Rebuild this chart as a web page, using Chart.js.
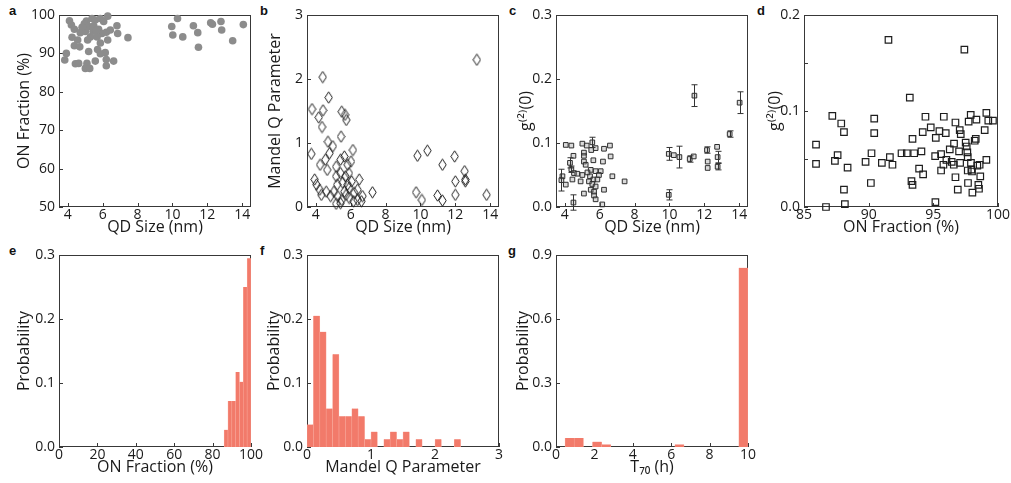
<!DOCTYPE html>
<html>
<head>
<meta charset="utf-8">
<script src="https://cdn.jsdelivr.net/npm/chart.js@4.4.1/dist/chart.umd.min.js"></script>
<style>
  body { margin: 0; background: #fff; width: 1011px; height: 483px; position: relative; overflow: hidden; }
  canvas { position: absolute; }
  .tag { position: absolute; font: bold 13px "Liberation Sans", Arial, sans-serif; color: #111; }
</style>
</head>
<body>
<div class="tag" style="left:9px;top:3px">a</div>
<div class="tag" style="left:260px;top:3px">b</div>
<div class="tag" style="left:509px;top:3px">c</div>
<div class="tag" style="left:757px;top:3px">d</div>
<div class="tag" style="left:9px;top:243px">e</div>
<div class="tag" style="left:260px;top:243px">f</div>
<div class="tag" style="left:508px;top:243px">g</div>

<canvas id="pa"></canvas><canvas id="pb"></canvas><canvas id="pc"></canvas><canvas id="pd"></canvas>
<canvas id="pe"></canvas><canvas id="pf"></canvas><canvas id="pg"></canvas>

<script>
// --- a: ON fraction vs QD size ---
const aSize = [4.1,4.21,4.38,4.72,4.25,4.57,4.38,4.69,3.92,3.83,4.44,4.63,5.01,5.2,5.07,5.39,5.58,5.87,6.06,6.29,
  5.49,5.77,5.96,6.21,6.44,6.82,6.86,5.3,5.68,5.14,5.87,6.29,5.2,5.71,6.15,5.87,5.1,5.58,6.21,6.63,
  6.21,5.01,5.26,7.45,4.95,5.45,4.82,5.64,
  9.96,10.02,10.29,10.59,11.2,11.45,11.49,12.19,12.29,12.78,12.82,13.45,14.06];
const aOn = [98.5,97.4,96.3,95.4,94.2,93.5,92,91.7,90,88.3,87.3,87.4,95.7,97,98.4,99.1,98.7,99.1,98.3,99.7,
  97.2,96.3,95.2,95.5,96.1,97.2,95.2,94.3,94.3,93.5,92.7,93.5,90.5,91,90.2,89.9,87.4,88,88.4,88,
  86.8,86.1,86.1,94.1,97.7,95.8,96.8,96.0,
  97,94.8,99.1,94.3,97.2,95.4,91.6,98,97.6,98.3,96.1,93.3,97.5];

// --- b: Mandel Q vs QD size ---
const bSize = [3.75,3.79,4.4,4.74,4.42,4.17,4.36,4.7,4.79,4.55,4.25,4.66,3.94,4.04,4.23,4.32,4.6,4.85,4.98,5.49,
  5.68,5.45,5.75,6.13,5.17,5.42,5.64,5.83,6.02,5.17,5.42,5.7,5.9,5.23,5.55,5.83,6.06,5.04,5.26,5.49,
  5.74,5.92,6.17,5.42,5.17,5.64,6.4,6.49,6.68,6.62,6.4,6.21,5.92,7.25,
  9.83,10.4,9.75,10.08,10.98,11.26,11.26,11.96,12.0,12.0,12.53,12.57,12.57,13.23,13.79];
const bQ = [0.83,1.53,2.03,1.71,1.51,1.4,1.25,1.02,0.84,0.74,0.66,0.58,0.43,0.35,0.27,0.19,0.24,0.17,0.95,1.49,
  1.44,1.1,1.36,0.89,0.63,0.74,0.79,0.66,0.71,0.48,0.53,0.48,0.53,0.35,0.38,0.35,0.4,0.24,0.17,0.11,
  0.19,0.14,0.09,0.06,0.05,0.24,0.27,0.43,0.17,0.09,0.11,0.22,0.3,0.23,
  0.8,0.88,0.23,0.11,0.18,0.66,0.1,0.79,0.4,0.19,0.56,0.43,0.4,2.3,0.19];

// --- c: g2(0) vs QD size, with error bars ---
const cSize = [4.06,4.38,5.01,5.26,5.52,5.58,5.77,6.25,6.59,6.63,4.5,5.1,5.64,6.19,5.1,5.2,4.3,4.38,4.53,4.72,
  5.01,3.87,3.81,4.06,4.5,5.49,5.77,6.06,5.96,5.45,5.64,5.39,5.87,5.58,5.77,5.49,5.68,6.25,6.73,7.43,
  4.91,4.44,5.68,5.77,6.15,5.1,5.3,5.1,
  9.96,10.25,10.57,9.96,11.16,11.39,11.43,12.15,12.19,12.19,12.73,12.76,12.76,13.45,14.02];
const cG2 = [0.097,0.096,0.099,0.096,0.089,0.101,0.092,0.091,0.096,0.079,0.08,0.08,0.073,0.071,0.071,0.066,0.069,0.059,0.053,0.052,
  0.05,0.048,0.042,0.035,0.007,0.058,0.056,0.056,0.05,0.048,0.043,0.04,0.043,0.036,0.032,0.027,0.024,0.027,0.048,0.04,
  0.04,0.043,0.018,0.012,0.004,0.021,0.054,0.085,
  0.083,0.081,0.078,0.019,0.075,0.079,0.174,0.089,0.071,0.061,0.094,0.078,0.063,0.114,0.163];
const cErr = [0.003,0.003,0.003,0.003,0.003,0.008,0.003,0.003,0.003,0.003,0.004,0.003,0.003,0.003,0.003,0.003,0.008,0.005,0.004,0.003,
  0.003,0.003,0.017,0.003,0.012,0.003,0.003,0.003,0.003,0.003,0.003,0.003,0.003,0.003,0.003,0.003,0.003,0.003,0.004,0.004,
  0.003,0.003,0.003,0.003,0.004,0.003,0.003,0.003,
  0.010,0.003,0.017,0.008,0.005,0.003,0.017,0.005,0.003,0.003,0.004,0.009,0.005,0.005,0.017];

// --- d: g2(0) vs ON fraction ---
const dOn = [85.93,85.93,86.7,87.19,87.39,87.6,87.88,88.09,88.09,88.16,88.37,89.76,90.22,90.17,90.43,90.43,91.02,91.53,91.64,91.84,
  92.54,92.95,93.18,93.39,93.52,93.31,93.39,94.08,93.9,94.18,94.21,94.39,94.8,95.19,95.14,95.16,95.47,95.6,95.6,95.81,
  95.78,95.96,96.01,96.27,96.42,96.71,96.6,96.58,96.71,96.89,97.04,97.12,96.99,97.07,97.4,97.5,97.58,97.63,97.66,97.66,
  97.73,97.89,97.91,97.94,97.99,98.02,98.28,98.33,98.4,98.48,98.53,98.58,98.63,98.97,99.1,99.1,99.25,99.61,97.68,98.2];
const dG2 = [0.065,0.045,0.0,0.095,0.048,0.054,0.087,0.078,0.018,0.003,0.041,0.047,0.056,0.025,0.092,0.077,0.046,0.174,0.052,0.044,
  0.056,0.056,0.114,0.071,0.056,0.027,0.023,0.058,0.04,0.078,0.034,0.094,0.083,0.072,0.053,0.005,0.079,0.055,0.038,0.094,
  0.044,0.077,0.049,0.06,0.047,0.088,0.066,0.044,0.031,0.018,0.08,0.076,0.058,0.046,0.164,0.067,0.063,0.057,0.052,0.038,
  0.089,0.096,0.046,0.039,0.037,0.015,0.071,0.091,0.043,0.023,0.019,0.044,0.032,0.08,0.098,0.049,0.09,0.09,0.025,0.069];

// --- histograms (bin centres / probability) ---
const eBins = [87,89,91,93,95,97,99];
const eProb = [0.027,0.072,0.072,0.117,0.102,0.25,0.295];
const fBins = [0.05,0.15,0.25,0.35,0.45,0.55,0.65,0.75,0.85,0.95,1.05,1.15,1.25,1.35,1.45,1.55,1.65,1.75,1.85,1.95,2.05,2.15,2.25,2.35];
const fProb = [0.035,0.205,0.18,0.06,0.145,0.048,0.048,0.06,0.048,0.012,0.024,0,0.012,0.024,0.012,0.024,0,0.012,0,0,0.012,0,0,0.012];
const gBins = [0.71,1.19,2.14,2.62,6.43,9.76];
const gProb = [0.042,0.042,0.025,0.012,0.012,0.84];

// --- tick values ---
const sizeTicks = [4,6,8,10,12,14];
const onTicks = [50,60,70,80,90,100];
const qTicks = [0,1,2,3];
const g2Ticks = [0,0.1,0.2,0.3];
const dxTicks = [85,90,95,100];
const dyTicks = [0,0.05,0.1,0.15,0.2];
const probTicks = [0,0.1,0.2,0.3];
const eTicks = [0,20,40,60,80,100];
const gyTicks = [0,0.3,0.6,0.9];
const gxTicks = [0,2,4,6,8,10];

Chart.defaults.font.family = '"Open Sans", "Noto Sans", sans-serif';
Chart.defaults.color = '#1a1a1a';
Chart.defaults.animation = false;

const SALMON = 'rgb(242,122,106)';
const SALMON_EDGE = 'rgb(248,165,152)';

// frame + inward tick marks
const frameTicks = {
  id: 'frameTicks',
  beforeDatasetsDraw(chart) {
    const { ctx, chartArea: a, scales } = chart;
    ctx.save();
    ctx.strokeStyle = '#383838';
    ctx.lineWidth = 1;
    ctx.strokeRect(a.left + 0.5, a.top + 0.5, a.right - a.left - 1, a.bottom - a.top - 1);
    ctx.beginPath();
    scales.x.ticks.forEach(t => {
      const p = Math.round(scales.x.getPixelForValue(t.value)) + 0.5;
      ctx.moveTo(p, a.bottom); ctx.lineTo(p, a.bottom - 4);
    });
    scales.y.ticks.forEach(t => {
      const p = Math.round(scales.y.getPixelForValue(t.value)) + 0.5;
      ctx.moveTo(a.left, p); ctx.lineTo(a.left + 4, p);
    });
    ctx.stroke();
    ctx.restore();
  }
};

const errorBars = {
  id: 'errorBars',
  afterDatasetsDraw(chart) {
    const { ctx, scales: { x, y } } = chart;
    ctx.save();
    ctx.strokeStyle = '#333';
    ctx.lineWidth = 1;
    ctx.beginPath();
    cSize.forEach((v, i) => {
      if (cErr[i] < 0.005) return;
      const px = Math.round(x.getPixelForValue(v)) + 0.5;
      const top = y.getPixelForValue(cG2[i] + cErr[i]);
      const bot = y.getPixelForValue(cG2[i] - cErr[i]);
      ctx.moveTo(px, top); ctx.lineTo(px, bot);
      ctx.moveTo(px - 3, top); ctx.lineTo(px + 3, top);
      ctx.moveTo(px - 3, bot); ctx.lineTo(px + 3, bot);
    });
    ctx.stroke();
    ctx.restore();
  }
};

// tall open diamond marker for panel b
const diamond = document.createElement('canvas');
diamond.width = 9; diamond.height = 13;
(function () {
  const c = diamond.getContext('2d');
  c.strokeStyle = '#1e1e1e'; c.lineWidth = 1;
  c.beginPath();
  c.moveTo(4.5, 0.8); c.lineTo(8.2, 6.5); c.lineTo(4.5, 12.2); c.lineTo(0.8, 6.5); c.closePath();
  c.stroke();
})();

function scale(ax, size, horiz) {
  return {
    type: 'linear', min: ax.min, max: ax.max, offset: false,
    grid: { display: false, drawTicks: false },
    border: { display: false },
    afterBuildTicks: s => { s.ticks = ax.ticks.map(v => ({ value: v })); },
    afterFit: s => { if (horiz) s.height = size; else s.width = size; },
    ticks: { autoSkip: false, maxRotation: 0, padding: horiz ? 0 : 4, font: { size: 14 }, callback: ax.fmt || (v => v) },
    title: { display: true, text: ax.title, font: { size: 16 },
      padding: horiz ? { top: 0, bottom: ax.tpad } : { top: ax.tpad, bottom: 0 } }
  };
}

function panel(id, box, plot, type, datasets, xAx, yAx, extra) {
  const cv = document.getElementById(id);
  cv.width = box[2]; cv.height = box[3];
  cv.style.left = box[0] + 'px'; cv.style.top = box[1] + 'px';
  return new Chart(cv, {
    type: type,
    data: { datasets: datasets },
    options: {
      responsive: false, devicePixelRatio: 1,
      layout: { padding: { left: 0, top: plot[1] - box[1], right: box[0] + box[2] - plot[2], bottom: 0 } },
      plugins: { legend: { display: false }, tooltip: { enabled: false } },
      scales: {
        x: scale(xAx, box[1] + box[3] - plot[3], true),
        y: scale(yAx, plot[0] - box[0], false)
      }
    },
    plugins: [frameTicks].concat(extra || [])
  });
}

const pts = (xs, ys) => xs.map((v, i) => ({ x: v, y: ys[i] }));
const fix1 = v => v.toFixed(1);

// top row
panel('pa', [0, 0, 264, 240], [59, 15, 251, 207], 'scatter',
  [{ data: pts(aSize, aOn), pointRadius: 3.8, backgroundColor: '#8c8c8c', borderWidth: 0, clip: false }],
  { min: 3.5, max: 14.5, ticks: sizeTicks, title: 'QD Size (nm)', tpad: 3 },
  { min: 50, max: 100, ticks: onTicks, title: 'ON Fraction (%)', tpad: 15 });

panel('pb', [250, 0, 264, 240], [307, 15, 499, 207], 'scatter',
  [{ data: pts(bSize, bQ), pointStyle: diamond, pointRadius: 5, clip: false }],
  { min: 3.5, max: 14.5, ticks: sizeTicks, title: 'QD Size (nm)', tpad: 3 },
  { min: 0, max: 3, ticks: qTicks, title: 'Mandel Q Parameter', tpad: 16 });

panel('pc', [500, 0, 264, 240], [556, 15, 748, 207], 'scatter',
  [{ data: pts(cSize, cG2), pointStyle: 'rect', pointRadius: 3.3, backgroundColor: 'rgba(150,150,150,0.35)', borderColor: '#2e2e2e', borderWidth: 1, clip: false }],
  { min: 3.5, max: 14.5, ticks: sizeTicks, title: 'QD Size (nm)', tpad: 3 },
  { min: 0, max: 0.3, ticks: g2Ticks, fmt: fix1, title: 'g⁽²⁾(0)', tpad: 17 }, [errorBars]);

panel('pd', [750, 0, 261, 240], [804, 15, 998, 207], 'scatter',
  [{ data: pts(dOn, dG2), pointStyle: 'rect', pointRadius: 4.6, backgroundColor: 'rgba(0,0,0,0)', borderColor: '#1e1e1e', borderWidth: 1.2, clip: false }],
  { min: 85, max: 100, ticks: dxTicks, title: 'ON Fraction (%)', tpad: 3 },
  { min: 0, max: 0.2, ticks: dyTicks, fmt: v => (Math.round(v * 100) % 10 === 0 ? v.toFixed(1) : ''), title: 'g⁽²⁾(0)', tpad: 16 });

// bottom row
const bars = (xs, ys) => [{ data: pts(xs, ys), backgroundColor: SALMON, borderColor: SALMON_EDGE,
  borderWidth: { left: 0.6, right: 0.6, top: 0, bottom: 0 }, barPercentage: 1, categoryPercentage: 1 }];

panel('pe', [0, 240, 268, 243], [59, 255, 251, 447], 'bar', bars(eBins, eProb),
  { min: 0, max: 100, ticks: eTicks, title: 'ON Fraction (%)', tpad: 6 },
  { min: 0, max: 0.3, ticks: probTicks, fmt: fix1, title: 'Probability', tpad: 15 });

panel('pf', [250, 240, 266, 243], [307, 255, 499, 447], 'bar', bars(fBins, fProb),
  { min: 0, max: 3, ticks: qTicks, title: 'Mandel Q Parameter', tpad: 6 },
  { min: 0, max: 0.3, ticks: probTicks, fmt: fix1, title: 'Probability', tpad: 15 });

panel('pg', [500, 240, 266, 243], [556, 255, 748, 447], 'bar', bars(gBins, gProb),
  { min: 0, max: 10, ticks: gxTicks, title: 'T₇₀ (h)', tpad: 6 },
  { min: 0, max: 0.9, ticks: gyTicks, fmt: fix1, title: 'Probability', tpad: 14 });
</script>
</body>
</html>
